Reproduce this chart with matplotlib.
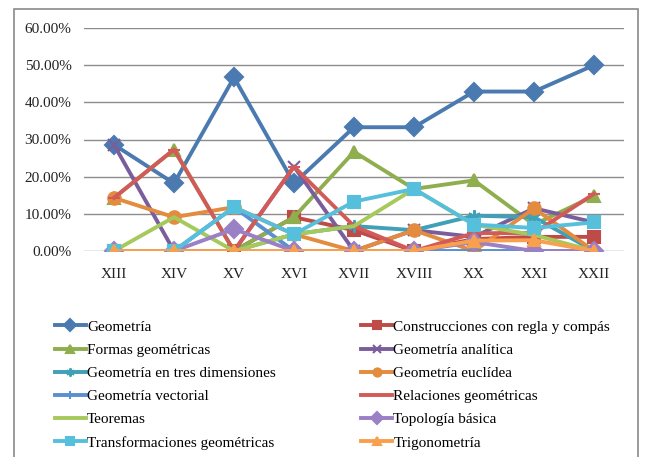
import matplotlib
matplotlib.use('Agg')
import matplotlib.pyplot as plt
from matplotlib.patches import Rectangle
from matplotlib.ticker import FuncFormatter

plt.rcParams['font.family'] = ['Liberation Serif', 'DejaVu Serif']

siglos = ['XIII', 'XIV', 'XV', 'XVI', 'XVII', 'XVIII', 'XX', 'XXI', 'XXII']

geometria = [28.6, 18.2, 46.7, 18.2, 33.3, 33.3, 42.9, 42.9, 50.0]
construcciones = [0, 0, 0, 9.1, 5.6, 0, 3.2, 3.8, 3.8]
formas = [14.3, 27.3, 0, 9.1, 26.7, 16.7, 19.0, 7.1, 14.8]
analitica = [28.6, 0, 0, 22.7, 0, 5.6, 3.8, 11.5, 7.7]
tres_dim = [0, 0, 0, 4.5, 6.7, 5.6, 9.5, 9.1, 0]
euclidea = [14.3, 9.1, 11.8, 4.5, 0, 5.6, 0, 11.5, 0]
vectorial = [0, 0, 11.8, 0, 0, 0, 0, 0, 0]
relaciones = [14.3, 27.3, 0, 22.7, 6.7, 0, 4.8, 4.8, 15.4]
teoremas = [0, 9.1, 0, 4.5, 6.7, 16.7, 7.1, 4.3, 0]
topologia = [0, 0, 5.9, 0, 0, 0, 2.4, 0, 0]
transformaciones = [0, 0, 11.8, 4.5, 13.3, 16.7, 7.1, 6.2, 7.7]
trigonometria = [0, 0, 0, 0, 0, 0, 2.8, 2.9, 0]

series = [
    ('Geometría', geometria, '#4a7ab0', 'D'),
    ('Construcciones con regla y compás', construcciones, '#be4b48', 's'),
    ('Formas geométricas', formas, '#8fae4e', '^'),
    ('Geometría analítica', analitica, '#7a5e9c', 'x'),
    ('Geometría en tres dimensiones', tres_dim, '#3fa0b8', (6, 2, 0)),
    ('Geometría euclídea', euclidea, '#e38b3e', 'o'),
    ('Geometría vectorial', vectorial, '#5b8fd0', '|'),
    ('Relaciones geométricas', relaciones, '#d25b57', '_'),
    ('Teoremas', teoremas, '#a6c95c', None),
    ('Topología básica', topologia, '#9a80c4', 'D'),
    ('Transformaciones geométricas', transformaciones, '#56c0dc', 's'),
    ('Trigonometría', trigonometria, '#f9a04e', '^'),
]

fig = plt.figure(figsize=(6.47, 4.57), dpi=100)
ax = fig.add_axes([84/647, 206/457, 540/647, 223/457])

x = list(range(len(siglos)))
lines = []
for name, vals, col, mk in series:
    ln, = ax.plot(x, vals, color=col, lw=2.8, marker=mk, markersize=9,
                  markerfacecolor=col, markeredgecolor=col, markeredgewidth=1.5,
                  label=name, solid_joinstyle='round')
    lines.append(ln)

ax.set_xlim(-0.5, 8.5)
ax.set_ylim(0, 60)
ax.set_yticks(range(0, 61, 10))
ax.yaxis.set_major_formatter(FuncFormatter(lambda v, p: '%.2f%%' % v))
ax.set_xticks(x)
ax.set_xticklabels(siglos)
ax.tick_params(length=0, labelsize=11, colors='#222222')
ax.tick_params(axis='x', pad=12)
ax.tick_params(axis='y', pad=9)
ax.grid(axis='y', color='#8c8c8c', lw=1)
ax.set_axisbelow(True)
for s in ax.spines.values():
    s.set_visible(False)
ax.patch.set_alpha(0)

# legend is filled row by row, matplotlib fills column by column
orden = lines[0::2] + lines[1::2]
leg = fig.legend(orden, [l.get_label() for l in orden],
                 loc='upper left', bbox_to_anchor=(55/647, 1 - 320/457), ncol=2,
                 frameon=False, fontsize=11, handlelength=2.0, handletextpad=0.1,
                 columnspacing=5.6, labelspacing=0.62, markerscale=0.65,
                 borderaxespad=0, borderpad=0)

fig.patches.append(Rectangle((14, 457 - 600), 624, 600 - 9, transform=None,
                             fill=False, edgecolor='#8a8a8a', lw=1.2))

fig.savefig('out.png', dpi=100)
